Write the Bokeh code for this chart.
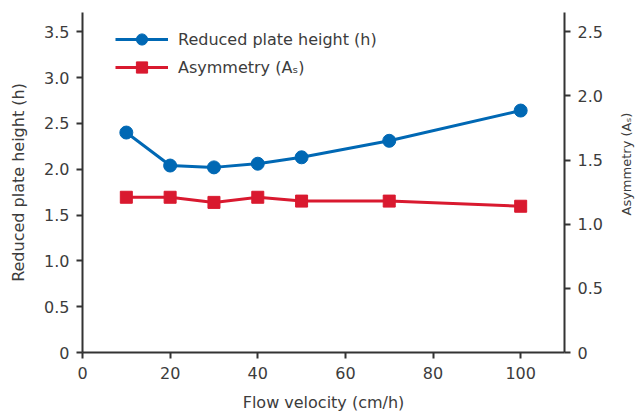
from bokeh.plotting import figure
from bokeh.layouts import row
from bokeh.models import Range1d, LinearAxis, Legend, LegendItem, FixedTicker, Title
from bokeh.embed import file_html
from bokeh.resources import INLINE

# Flow velocity (cm/h) and the two measured quantities
flow_velocity = [10, 20, 30, 40, 50, 70, 100]
plate_height = [2.40, 2.04, 2.02, 2.06, 2.13, 2.31, 2.64]
asymmetry = [1.21, 1.21, 1.17, 1.21, 1.18, 1.18, 1.14]

x_ticks = [0, 20, 40, 60, 80, 100]
x_labels = ["0", "20", "40", "60", "80", "100"]
h_ticks = [0, 0.5, 1.0, 1.5, 2.0, 2.5, 3.0, 3.5]
h_labels = ["0", "0.5", "1.0", "1.5", "2.0", "2.5", "3.0", "3.5"]
as_ticks = [0, 0.5, 1.0, 1.5, 2.0, 2.5]
as_labels = ["0", "0.5", "1.0", "1.5", "2.0", "2.5"]

X_MAX, H_MAX, AS_MAX = 110, 3.71, 2.65

BLUE = "#0068b4"
RED = "#d9192f"
AXIS = "#333333"
TEXT = "#3c3c3c"
FONT = "DejaVu Sans"
FS = "16px"

TOP, BOTTOM = 12, 64

p = figure(width=605, height=416, output_backend="svg", toolbar_location=None,
           x_range=Range1d(0, X_MAX), y_range=Range1d(0, H_MAX),
           min_border_left=82, min_border_right=38,
           min_border_top=TOP, min_border_bottom=BOTTOM)
p.extra_y_ranges = {"as": Range1d(0, AS_MAX)}
p.outline_line_color = None
p.grid.grid_line_color = None
p.background_fill_color = "white"
p.border_fill_color = "white"


def style_axis(ax, ticks, labels, title):
    ax.ticker = FixedTicker(ticks=ticks)
    ax.major_label_overrides = dict(zip(ticks, labels))
    ax.axis_label = title
    ax.axis_line_color = AXIS
    ax.axis_line_width = 2
    ax.major_tick_line_color = AXIS
    ax.major_tick_line_width = 2
    ax.major_tick_in = 0
    ax.major_tick_out = 6
    ax.minor_tick_line_color = None
    ax.major_label_text_font = FONT
    ax.major_label_text_font_size = FS
    ax.major_label_text_color = TEXT
    ax.axis_label_text_font = FONT
    ax.axis_label_text_font_size = FS
    ax.axis_label_text_font_style = "normal"
    ax.axis_label_text_color = TEXT


style_axis(p.xaxis[0], x_ticks, x_labels, "Flow velocity (cm/h)")
p.xaxis[0].major_label_standoff = 8
p.xaxis[0].axis_label_standoff = 11

style_axis(p.yaxis[0], h_ticks, h_labels, "Reduced plate height (h)")
p.yaxis[0].major_label_standoff = 7
p.yaxis[0].axis_label_standoff = 13

right = LinearAxis(y_range_name="as")
style_axis(right, as_ticks, as_labels, None)
right.major_label_standoff = 7
p.add_layout(right, "right")

# Reduced plate height on the left scale
hl = p.line(flow_velocity, plate_height, line_color=BLUE, line_width=3)
hm = p.scatter(flow_velocity, plate_height, marker="circle", size=13,
               fill_color=BLUE, line_color=BLUE)

# Asymmetry on the right scale
al = p.line(flow_velocity, asymmetry, line_color=RED, line_width=3, y_range_name="as")
am = p.scatter(flow_velocity, asymmetry, marker="square", size=12,
               fill_color=RED, line_color=RED, y_range_name="as")

legend = Legend(items=[
    LegendItem(label="Reduced plate height (h)", renderers=[hl, hm]),
    LegendItem(label="Asymmetry (A\u209b)", renderers=[al, am]),
], location=(33, 271))
legend.background_fill_alpha = 0
legend.border_line_alpha = 0
legend.padding = 0
legend.margin = 0
legend.spacing = -1
legend.glyph_width = 53
legend.glyph_height = 28
legend.label_height = 20
legend.label_standoff = 10
legend.label_text_font = FONT
legend.label_text_font_size = FS
legend.label_text_color = TEXT
p.add_layout(legend)

# Narrow strip carrying the right-hand axis title, reading bottom to top
side = figure(width=38, height=416, output_backend="svg", toolbar_location=None,
              x_range=Range1d(0, 1), y_range=Range1d(0, AS_MAX),
              min_border_left=30, min_border_right=0,
              min_border_top=TOP, min_border_bottom=BOTTOM)
side.outline_line_color = None
side.grid.grid_line_color = None
side.xaxis.visible = False
side.yaxis.visible = False
side.border_fill_color = "white"
side.background_fill_color = "white"
side.add_layout(Title(text="Asymmetry (A\u209b)", align="left", offset=137,
                      standoff=3, text_font=FONT, text_font_size="13px",
                      text_font_style="normal", text_color=TEXT), "left")

layout = row(p, side, spacing=0)
open("out.html", "w").write(file_html(layout, INLINE))
